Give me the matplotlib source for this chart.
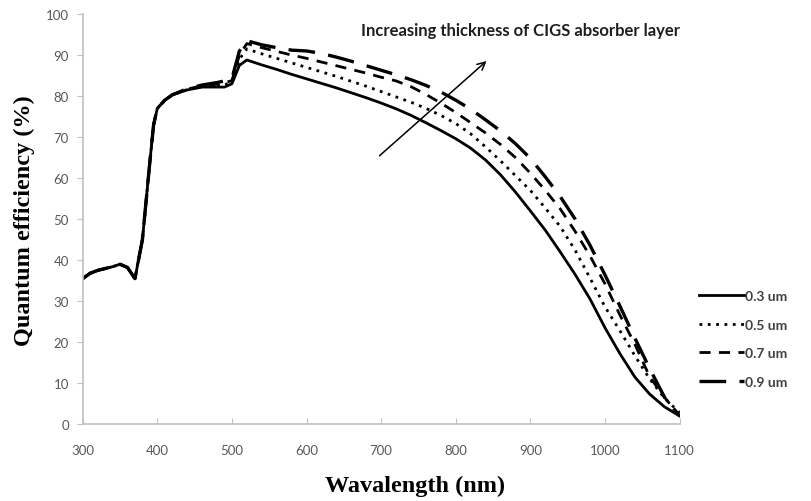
import matplotlib
matplotlib.use("Agg")
import matplotlib.pyplot as plt

# wavelength grid (nm) and quantum efficiency (%) for each absorber thickness
wavelength = [300, 310, 320, 340, 350, 360, 370, 380, 390, 395, 400, 410, 420, 440, 460, 480, 490,
              500, 510, 520, 540, 560, 580, 600, 620, 640, 660, 680, 700, 720, 740, 760, 780,
              800, 820, 840, 860, 880, 900, 920, 940, 960, 980, 1000, 1020, 1040, 1060, 1080, 1100]

qe_03 = [35.5, 36.8, 37.5, 38.4, 39.0, 38.2, 35.5, 45.0, 64.0, 73.0, 77.0, 79.0, 80.3, 81.5, 82.2, 82.2, 82.2,
         83.0, 87.5, 88.8, 87.6, 86.5, 85.3, 84.2, 83.1, 82.0, 80.8, 79.6, 78.3, 76.9, 75.3, 73.5, 71.6,
         69.6, 67.3, 64.4, 60.8, 56.6, 52.0, 47.3, 42.0, 36.5, 30.5, 23.5, 17.2, 11.5, 7.3, 4.2, 2.0]

qe_05 = [35.5, 36.8, 37.5, 38.4, 39.0, 38.2, 35.5, 45.0, 64.0, 73.0, 77.0, 79.0, 80.3, 81.6, 82.3, 82.5, 82.7,
         83.5, 89.0, 91.5, 90.3, 89.2, 88.1, 87.0, 85.9, 84.8, 83.6, 82.4, 81.1, 79.8, 78.5, 77.0, 75.3,
         73.3, 70.8, 67.6, 64.2, 60.6, 57.0, 52.7, 48.2, 42.4, 35.6, 28.6, 22.8, 16.7, 11.0, 6.3, 2.8]

qe_07 = [35.5, 36.8, 37.5, 38.4, 39.0, 38.2, 35.5, 45.0, 64.0, 73.0, 77.0, 79.0, 80.3, 81.7, 82.5, 82.9, 83.2,
         83.8, 90.0, 92.8, 91.8, 90.9, 90.0, 89.2, 88.3, 87.4, 86.5, 85.6, 84.6, 83.7, 82.3, 80.4, 78.3,
         76.0, 73.5, 71.0, 68.2, 65.0, 61.2, 57.0, 52.5, 47.0, 41.0, 34.2, 26.6, 19.5, 11.5, 6.5, 2.0]

qe_09 = [35.5, 36.8, 37.5, 38.4, 39.0, 38.2, 35.5, 45.0, 64.0, 73.0, 77.0, 79.0, 80.3, 81.8, 82.7, 83.3, 83.7,
         84.3, 91.0, 93.5, 92.5, 91.8, 91.2, 91.0, 90.4, 89.5, 88.5, 87.4, 86.3, 85.2, 84.0, 82.6, 81.0,
         79.0, 76.8, 74.2, 71.5, 68.4, 64.8, 60.3, 55.5, 50.0, 43.6, 36.4, 28.8, 21.0, 13.5, 6.5, 2.0]

labels = ["0.3 um", "0.5 um", "0.7 um", "0.9 um"]

fig = plt.figure(figsize=(8.11, 5.02), dpi=100)
ax = fig.add_axes([0.102, 0.153, 0.736, 0.817])

ax.plot(wavelength, qe_03, color="black", lw=2.0, ls="-", label=labels[0])
ax.plot(wavelength, qe_05, color="black", lw=2.0, ls=(0, (1, 2)), label=labels[1])
ax.plot(wavelength, qe_07, color="black", lw=2.0, ls=(0, (4, 3)), label=labels[2])
ax.plot(wavelength, qe_09, color="black", lw=2.4, ls=(0, (8, 4)), label=labels[3])

ax.set_xlim(300, 1100)
ax.set_ylim(0, 100)
ax.set_xticks(range(300, 1101, 100))
ax.set_yticks(range(0, 101, 10))

for side in ["top", "right"]:
    ax.spines[side].set_visible(False)
for side in ["left", "bottom"]:
    ax.spines[side].set_color("#c0c0c0")
    ax.spines[side].set_linewidth(1.2)

ax.tick_params(axis="x", direction="in", length=4, color="#c0c0c0", pad=14,
               labelsize=9.5, labelcolor="#595959")
ax.tick_params(axis="y", direction="out", length=4, color="#c0c0c0", pad=6,
               labelsize=9.5, labelcolor="#595959")
for t in ax.get_xticklabels() + ax.get_yticklabels():
    t.set_family("Lato")

ax.set_xlabel("Wavalength (nm)", family="Liberation Serif", fontweight="bold",
              fontsize=17.5, labelpad=14)
ax.xaxis.set_label_coords(0.556, -0.124)
ax.set_ylabel("Quantum efficiency (%)", family="Liberation Serif", fontweight="bold",
              fontsize=17.5, labelpad=8)

# thickness trend arrow
ax.annotate("", xy=(844, 89), xytext=(695, 65),
            arrowprops=dict(arrowstyle="->", color="black", lw=1.1, mutation_scale=14))
ax.text(673, 96, "Increasing thickness of CIGS absorber layer", family="Lato",
        fontweight="bold", fontsize=12, color="#1f1f1f", ha="left", va="center")

leg = fig.legend(loc="center left", bbox_to_anchor=(0.862, 0.323), frameon=False,
                 handlelength=3.2, handletextpad=0.1, labelspacing=1.2,
                 borderpad=0, borderaxespad=0,
                 prop={"family": "Lato", "weight": "bold", "size": 10})
for t in leg.get_texts():
    t.set_color("#404040")

fig.savefig("out.png", dpi=100)
